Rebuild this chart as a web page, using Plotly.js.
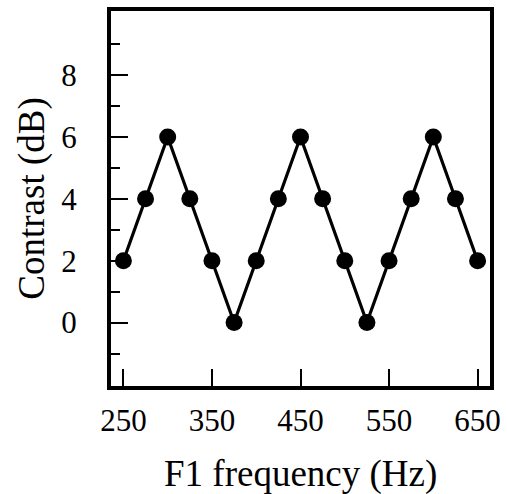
<!DOCTYPE html>
<html>
<head>
<meta charset="utf-8">
<script src="https://cdn.plot.ly/plotly-3.0.1.min.js"></script>
<style>html,body{margin:0;padding:0;background:#fff;}#chart{width:507px;height:494px;}</style>
</head>
<body>
<div id="chart"></div>
<script>
const freqHz = [250, 275, 300, 325, 350, 375, 400, 425, 450, 475, 500, 525, 550, 575, 600, 625, 650];
const contrastDb = [2, 4, 6, 4, 2, 0, 2, 4, 6, 4, 2, 0, 2, 4, 6, 4, 2];
const xTickVals = [250, 350, 450, 550, 650];
const yTickVals = [0, 2, 4, 6, 8];
const xTitle = 'F1 frequency (Hz)';
const yTitle = 'Contrast (dB)';

const font = 'Liberation Serif, Times New Roman, serif';
const trace = {
  x: freqHz, y: contrastDb, type: 'scatter', mode: 'lines+markers',
  line: {color: '#000', width: 3.2},
  marker: {color: '#000', size: 17, symbol: 'circle'},
  cliponaxis: false, hoverinfo: 'none'
};
const layout = {
  width: 507, height: 494,
  margin: {l: 111, r: 17, t: 11, b: 108},
  paper_bgcolor: '#fff', plot_bgcolor: '#fff',
  showlegend: false,
  font: {family: font, color: '#000'},
  xaxis: {
    range: [236, 664], tickmode: 'array', tickvals: xTickVals,
    ticks: 'inside', ticklen: 17, tickwidth: 2, tickcolor: '#000',
    showline: true, linewidth: 4, linecolor: '#000', mirror: true,
    showgrid: false, zeroline: false,
    tickfont: {family: font, size: 31, color: '#000'},
    ticklabelstandoff: 4
  },
  yaxis: {
    range: [-2.05, 10.07], tickmode: 'array', tickvals: yTickVals,
    ticks: 'inside', ticklen: 17, tickwidth: 2, tickcolor: '#000',
    minor: {tickmode: 'array', tickvals: [-1, 1, 3, 5, 7, 9], ticks: 'inside', ticklen: 9, tickwidth: 2, tickcolor: '#000', showgrid: false},
    showline: true, linewidth: 4, linecolor: '#000', mirror: true,
    showgrid: false, zeroline: false,
    tickfont: {family: font, size: 31, color: '#000'},
    ticklabelstandoff: 24,
    title: {text: yTitle, font: {family: font, size: 37, color: '#000'}, standoff: 6}
  },
  annotations: [{
    text: xTitle, xref: 'paper', yref: 'paper', x: 0.5, y: 0,
    xanchor: 'center', yanchor: 'top', yshift: -65, showarrow: false,
    font: {family: font, size: 37, color: '#000'}
  }]
};
Plotly.newPlot('chart', [trace], layout, {staticPlot: true, displayModeBar: false});
</script>
</body>
</html>
